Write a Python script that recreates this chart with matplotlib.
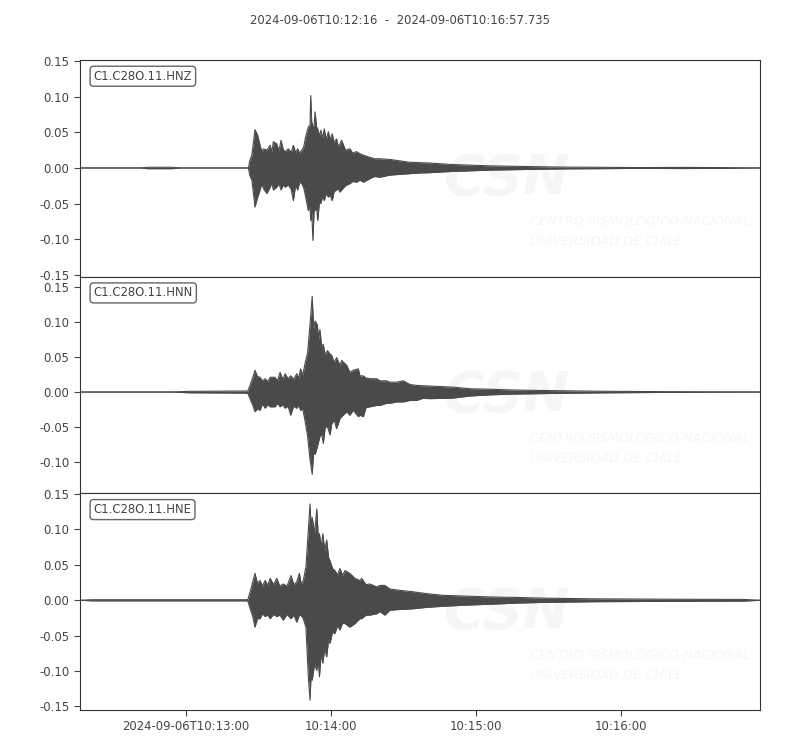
import matplotlib
matplotlib.use("Agg")
import matplotlib.pyplot as plt
from matplotlib.ticker import FixedLocator

# Seconds after 2024-09-06T10:12:16; upper / lower envelope
t_end = 281.735

t_hnz = [0, 25, 28, 38, 42, 69.8, 70.3, 71.2, 72.5, 73.6,
         74.6, 75.3, 76.0, 77.4, 78.8, 79.5, 80.1, 81.5, 82.4, 83.3,
         84.2, 85.0, 86.3, 87.5, 88.4, 89.3, 90.2, 91.0, 91.9, 92.7,
         93.5, 94.6, 95.3, 95.6, 96.0, 96.5, 97.0, 97.4, 98.0, 98.5,
         99.2, 99.8, 100.5, 101.2, 102.0, 102.9, 103.6, 104.5, 105.3, 106.3,
         107.0, 107.7, 108.4, 110.0, 111.8, 113.0, 114.6, 116.0, 117.4, 120.1,
         122.0, 124.3, 128.4, 132.5, 136.7, 140.8, 145.0, 153.3, 161.6, 169.9,
         178.1, 186.4, 194.7, 203.0, 214.0, 230.0, 250.0, 265.0, t_end]
up_hnz = [0, 0, 0.001, 0.001, 0, 0, 0.010, 0.018, 0.054, 0.046,
          0.032, 0.023, 0.027, 0.025, 0.032, 0.022, 0.037, 0.034, 0.024, 0.039,
          0.026, 0.023, 0.027, 0.022, 0.032, 0.022, 0.027, 0.021, 0.025, 0.030,
          0.044, 0.058, 0.060, 0.102, 0.065, 0.058, 0.060, 0.079, 0.058, 0.055,
          0.045, 0.053, 0.042, 0.055, 0.040, 0.051, 0.040, 0.048, 0.036, 0.041,
          0.030, 0.034, 0.039, 0.025, 0.027, 0.021, 0.023, 0.020, 0.018, 0.015,
          0.013, 0.013, 0.012, 0.010, 0.008, 0.0075, 0.007, 0.005, 0.004, 0.003,
          0.0025, 0.002, 0.0015, 0.0012, 0.001, 0.0006, 0.0008, 0.0006, 0]
lo_hnz = [0, 0, -0.001, -0.001, 0, 0, -0.010, -0.017, -0.055, -0.041,
          -0.031, -0.022, -0.029, -0.036, -0.027, -0.021, -0.031, -0.027, -0.022, -0.031,
          -0.024, -0.027, -0.024, -0.030, -0.046, -0.025, -0.031, -0.020, -0.022, -0.028,
          -0.041, -0.060, -0.055, -0.074, -0.062, -0.102, -0.058, -0.060, -0.056, -0.074,
          -0.048, -0.050, -0.040, -0.046, -0.036, -0.041, -0.038, -0.046, -0.033, -0.031,
          -0.029, -0.034, -0.031, -0.025, -0.022, -0.019, -0.020, -0.017, -0.020, -0.015,
          -0.012, -0.013, -0.010, -0.009, -0.008, -0.007, -0.0066, -0.005, -0.004, -0.003,
          -0.0025, -0.002, -0.0015, -0.0012, -0.001, -0.0006, -0.0008, -0.0006, 0]

t_hnn = [0, 38, 45, 69.5, 70.5, 71.5, 72.5, 73.5, 74.6, 75.6,
         76.7, 77.8, 78.8, 80.8, 81.8, 82.9, 84.0, 85.0, 86.2, 87.3,
         88.5, 89.8, 90.6, 91.4, 92.3, 93.2, 94.3, 95.3, 96.2, 96.8,
         97.4, 98.3, 98.9, 99.4, 100.1, 100.8, 101.6, 102.5, 103.6, 104.3,
         105.3, 106.3, 107.7, 108.4, 110.5, 111.8, 113.2, 115.3, 116.0, 117.4,
         118.5, 120.1, 122.9, 124.3, 127.0, 128.4, 131.2, 134.0, 136.5, 139.4,
         142.0, 145.0, 154.6, 161.6, 169.9, 178.1, 186.4, 200.0, 214.0, 222.0,
         240.0, t_end]
up_hnn = [0, 0, 0.001, 0.0015, 0.010, 0.020, 0.031, 0.022, 0.021, 0.016,
          0.019, 0.015, 0.021, 0.021, 0.016, 0.028, 0.018, 0.026, 0.019, 0.023,
          0.018, 0.026, 0.020, 0.033, 0.024, 0.040, 0.056, 0.096, 0.136, 0.090,
          0.101, 0.096, 0.075, 0.089, 0.065, 0.068, 0.052, 0.059, 0.054, 0.052,
          0.042, 0.049, 0.038, 0.045, 0.038, 0.028, 0.031, 0.033, 0.023, 0.023,
          0.020, 0.019, 0.019, 0.016, 0.016, 0.014, 0.014, 0.016, 0.011, 0.0094,
          0.009, 0.0085, 0.007, 0.0047, 0.004, 0.003, 0.0025, 0.0018, 0.0012, 0.001,
          0.0006, 0]
lo_hnn = [0, 0, -0.001, -0.0015, -0.010, -0.018, -0.028, -0.024, -0.026, -0.017,
          -0.023, -0.018, -0.021, -0.021, -0.016, -0.021, -0.018, -0.023, -0.020, -0.033,
          -0.020, -0.023, -0.019, -0.026, -0.024, -0.040, -0.063, -0.096, -0.117, -0.085,
          -0.089, -0.078, -0.070, -0.063, -0.060, -0.073, -0.050, -0.049, -0.061, -0.045,
          -0.040, -0.052, -0.038, -0.035, -0.028, -0.033, -0.026, -0.035, -0.033, -0.035,
          -0.022, -0.021, -0.019, -0.019, -0.016, -0.016, -0.014, -0.014, -0.012, -0.012,
          -0.009, -0.0094, -0.0085, -0.0056, -0.004, -0.003, -0.0025, -0.0018, -0.0012, -0.001,
          -0.0006, 0]

t_hne = [0, 5, 69.5, 70.5, 71.5, 72.5, 73.5, 74.6, 75.6, 76.7,
         77.8, 78.8, 80.2, 81.5, 82.8, 84.2, 85.8, 87.4, 88.6, 89.8,
         90.9, 91.7, 92.5, 93.6, 94.6, 95.3, 95.8, 96.2, 97.2, 98.1,
         98.7, 99.2, 99.9, 100.6, 101.4, 102.2, 103.0, 103.6, 104.6, 105.6,
         106.7, 107.7, 108.8, 109.8, 111.8, 113.9, 116.0, 116.7, 118.5, 120.1,
         122.9, 124.3, 126.3, 128.4, 132.5, 138.0, 143.6, 150.5, 158.8, 169.9,
         181.0, 192.0, 203.0, 214.0, 228.0, 250.0, 275.0, t_end]
up_hne = [0, 0.0008, 0.0008, 0.012, 0.025, 0.038, 0.024, 0.028, 0.020, 0.028,
          0.021, 0.031, 0.022, 0.031, 0.020, 0.023, 0.020, 0.035, 0.022, 0.026,
          0.038, 0.022, 0.028, 0.047, 0.099, 0.136, 0.100, 0.117, 0.095, 0.129,
          0.090, 0.094, 0.075, 0.094, 0.070, 0.085, 0.060, 0.056, 0.045, 0.042,
          0.036, 0.045, 0.035, 0.042, 0.038, 0.031, 0.028, 0.031, 0.022, 0.023,
          0.019, 0.021, 0.021, 0.016, 0.014, 0.012, 0.0094, 0.007, 0.006, 0.0047,
          0.004, 0.003, 0.0025, 0.002, 0.0018, 0.0014, 0.0012, 0]
lo_hne = [0, -0.0008, -0.0008, -0.012, -0.022, -0.038, -0.026, -0.026, -0.019, -0.023,
          -0.021, -0.026, -0.020, -0.023, -0.021, -0.028, -0.020, -0.026, -0.021, -0.031,
          -0.021, -0.022, -0.026, -0.038, -0.108, -0.141, -0.100, -0.113, -0.090, -0.099,
          -0.085, -0.108, -0.075, -0.089, -0.068, -0.080, -0.055, -0.061, -0.045, -0.047,
          -0.036, -0.042, -0.032, -0.033, -0.038, -0.033, -0.026, -0.026, -0.021, -0.021,
          -0.019, -0.016, -0.021, -0.014, -0.013, -0.012, -0.010, -0.0085, -0.007, -0.0056,
          -0.004, -0.003, -0.0025, -0.002, -0.0018, -0.0014, -0.0012, 0]

traces = [
    ("C1.C28O.11.HNZ", t_hnz, up_hnz, lo_hnz, (-0.153, 0.152)),
    ("C1.C28O.11.HNN", t_hnn, up_hnn, lo_hnn, (-0.144, 0.164)),
    ("C1.C28O.11.HNE", t_hne, up_hne, lo_hne, (-0.155, 0.151)),
]

ytick_vals = [-0.15, -0.10, -0.05, 0.0, 0.05, 0.10, 0.15]
tick_secs = [44, 104, 164, 224]
tick_labels = ["2024-09-06T10:13:00", "10:14:00", "10:15:00", "10:16:00"]

txt = "#444444"
trace_col = "#4a4a4a"
mark_col = "#f6f6f6"
fs = 8.4

fig = plt.figure(figsize=(8, 7.5), dpi=100)
fig.text(0.5, 0.973, "2024-09-06T10:12:16  -  2024-09-06T10:16:57.735",
         ha="center", va="center", fontsize=fs, color=txt)

left, right, top, bottom = 0.1, 0.95, 0.92, 0.0533
h = (top - bottom) / 3
for i, (label, t, up, lo, ylim) in enumerate(traces):
    assert len(t) == len(up) == len(lo)
    ax = fig.add_axes([left, top - (i + 1) * h, right - left, h])
    # faint CSN watermark
    ax.text(0.628, 0.45, "CSN", transform=ax.transAxes, fontsize=40, fontstyle="italic",
            fontweight="bold", color=mark_col, ha="center", va="center", zorder=0)
    ax.text(0.662, 0.253, "CENTRO SISMOLÓGICO NACIONAL", transform=ax.transAxes,
            fontsize=9.3, fontstyle="italic", color=mark_col, ha="left", va="center", zorder=0)
    ax.text(0.662, 0.161, "UNIVERSIDAD DE CHILE", transform=ax.transAxes,
            fontsize=9.3, fontstyle="italic", color=mark_col, ha="left", va="center", zorder=0)

    ax.fill_between(t, lo, up, color=trace_col, linewidth=0, zorder=2)
    ax.plot(t, up, color=trace_col, lw=0.8, zorder=3)
    ax.plot(t, lo, color=trace_col, lw=0.8, zorder=3)
    ax.set_xlim(0, t_end)
    ax.set_ylim(*ylim)
    yt = [v for v in ytick_vals if ylim[0] <= v <= ylim[1]]
    ax.set_yticks(yt)
    ax.set_yticklabels([f"{v:.2f}" for v in yt])
    ax.xaxis.set_major_locator(FixedLocator(tick_secs))
    if i == 2:
        ax.set_xticklabels(tick_labels)
    else:
        ax.tick_params(axis="x", bottom=False, labelbottom=False)
    ax.tick_params(labelsize=fs, colors=txt, length=4, width=0.8)
    for sp in ax.spines.values():
        sp.set_color("#333333")
        sp.set_linewidth(0.8)
    ax.text(0.02, 0.925, label, transform=ax.transAxes, fontsize=fs, color=txt,
            ha="left", va="center", zorder=5,
            bbox=dict(boxstyle="round,pad=0.3", fc="white", ec="#666666", lw=1.0))

fig.savefig("out.png", dpi=100)
